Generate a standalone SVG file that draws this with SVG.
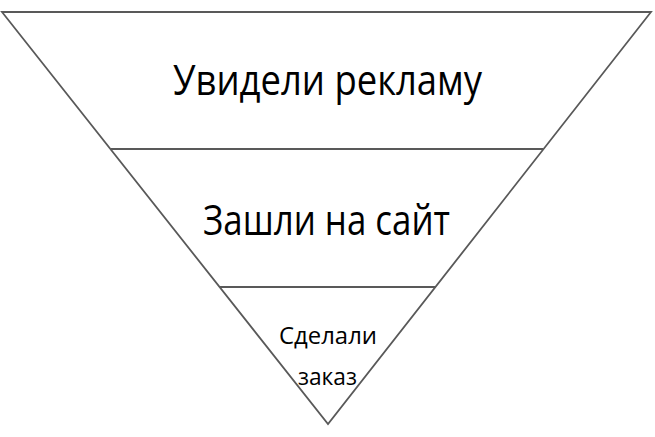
<svg xmlns="http://www.w3.org/2000/svg" width="655" height="437" viewBox="0 0 655 437">
<style>
.edge{fill:none;stroke:#595959;stroke-width:1.8;stroke-linejoin:miter}
.lbl{font-family:"Open Sans","Noto Sans","Liberation Sans",sans-serif;fill:#000;text-anchor:middle}
</style>
<rect width="655" height="437" fill="#fff"/>
<g id="connectors">
<polygon class="edge" points="2,12 651,12 328,424"/>
<line class="edge" x1="111" y1="149" x2="543" y2="149"/>
<line class="edge" x1="220" y1="287" x2="436" y2="287"/>
</g>
<g id="node-top">
<text class="lbl" x="327.5" y="95" font-size="42" textLength="309" lengthAdjust="spacingAndGlyphs">Увидели рекламу</text>
</g>
<g id="node-middle">
<text class="lbl" x="326.5" y="235" font-size="42" textLength="247" lengthAdjust="spacingAndGlyphs">Зашли на сайт</text>
</g>
<g id="node-bottom">
<text class="lbl" x="328" y="344" font-size="24" textLength="98" lengthAdjust="spacingAndGlyphs">Сделали</text>
<text class="lbl" x="327.5" y="385" font-size="24" textLength="59" lengthAdjust="spacingAndGlyphs">заказ</text>
</g>
</svg>
